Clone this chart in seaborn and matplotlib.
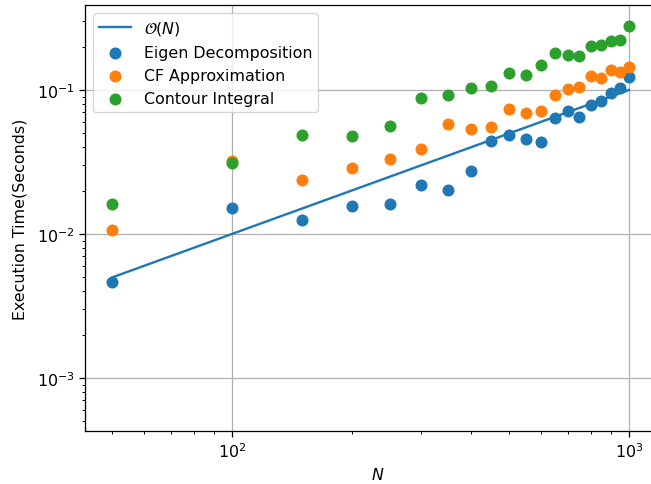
import numpy as np
import pandas as pd
import seaborn as sns
import matplotlib
matplotlib.use("Agg")
import matplotlib.pyplot as plt

# --- DATA ---
n_values = [50, 100, 150, 200, 250, 300, 350, 400, 450, 500,
            550, 600, 650, 700, 750, 800, 850, 900, 950, 1000]

eigen_times = [0.00467, 0.0152, 0.0124, 0.0156, 0.0161, 0.0219, 0.0201, 0.0274, 0.0441, 0.0487,
               0.0457, 0.0438, 0.0639, 0.0711, 0.0653, 0.0787, 0.0834, 0.0953, 0.103, 0.1237]

cf_times = [0.0107, 0.0320, 0.0238, 0.0286, 0.0330, 0.0387, 0.0583, 0.0536, 0.0553, 0.0742,
            0.0692, 0.0718, 0.0918, 0.102, 0.1044, 0.1245, 0.1205, 0.1377, 0.134, 0.1445]

contour_times = [0.0162, 0.0310, 0.0487, 0.0480, 0.0562, 0.0880, 0.0928, 0.1037, 0.1066, 0.1306,
                 0.126, 0.1485, 0.1815, 0.174, 0.172, 0.203, 0.2066, 0.218, 0.2235, 0.278]

# reference O(N) line, scaled so that N=1000 -> 0.1
ref_n = [50, 1000]
ref_time = [0.005, 0.1]


def main():
    df = pd.DataFrame({
        "N": n_values,
        "Eigen Decomposition": eigen_times,
        "CF Approximation": cf_times,
        "Contour Integral": contour_times,
    })
    ref = pd.DataFrame({"N": ref_n, "t": ref_time})

    # reference looks like the default style rendered ~14% larger
    k = 1.14
    plt.rcParams.update({
        "font.size": 10 * k,
        "xtick.major.size": 3.5 * k,
        "ytick.major.size": 3.5 * k,
        "xtick.minor.size": 2 * k,
        "ytick.minor.size": 2 * k,
        "axes.linewidth": 0.8 * k,
        "xtick.major.width": 0.8 * k,
        "ytick.major.width": 0.8 * k,
        "xtick.minor.width": 0.6 * k,
        "ytick.minor.width": 0.6 * k,
    })

    colors = sns.color_palette("tab10")

    # the right spine is cut off in the reference, so the axes run past the figure edge
    fig = plt.figure(figsize=(6.51, 4.85), dpi=100)
    ax = fig.add_axes([85 / 651, 53 / 485, 585 / 651, 426 / 485])

    sns.lineplot(data=ref, x="N", y="t", color=colors[0], linewidth=1.5 * k,
                 label=r"$\mathcal{O}(N)$", ax=ax)

    for i, name in enumerate(["Eigen Decomposition", "CF Approximation", "Contour Integral"]):
        sns.scatterplot(data=df, x="N", y=name, color=colors[i], s=36 * k * k * 1.6,
                        linewidth=0, label=name, ax=ax)

    ax.set_xscale("log")
    ax.set_yscale("log")
    # 1 decade = 397 px; left spine at 85 px, 10^2 at 232 px
    ax.set_xlim(10 ** (2 - 147 / 397), 10 ** (3 + 41 / 397))
    ax.set_ylim(4.28e-4, 0.389)
    ax.grid(True, which="major", color="#b0b0b0", linewidth=0.8 * k)
    ax.set_axisbelow(True)

    ax.set_xlabel(r"$N$")
    ax.set_ylabel("Execution Time(Seconds)", labelpad=7)
    ax.legend(loc="upper left")

    fig.savefig("out.png", dpi=100)
    plt.close(fig)


if __name__ == "__main__":
    main()
